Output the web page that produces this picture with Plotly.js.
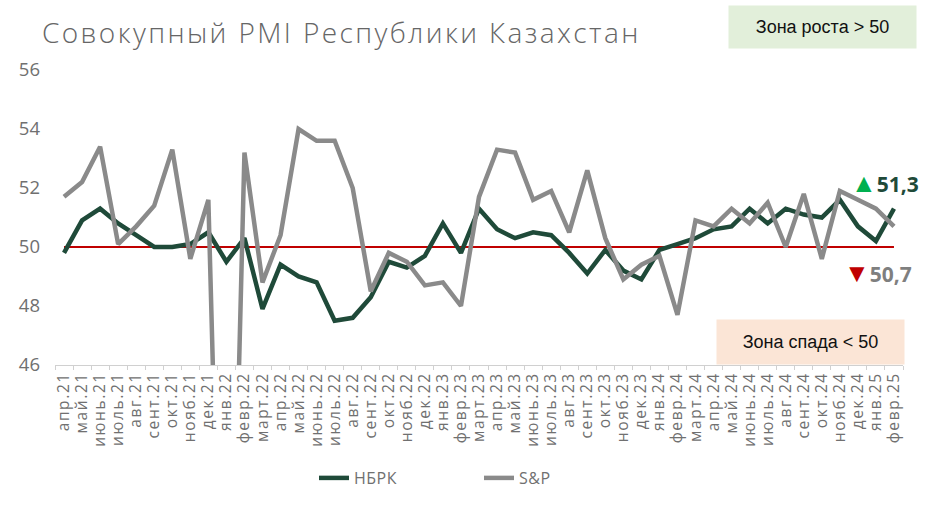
<!DOCTYPE html>
<html>
<head>
<meta charset="utf-8">
<script src="https://cdn.plot.ly/plotly-3.0.1.min.js"></script>
<style>
html,body{margin:0;padding:0;background:#fff;}
#chart{width:927px;height:510px;}
.gtitle{letter-spacing:2.4px;}
.xtick text{letter-spacing:1.6px;}
.legendtext{letter-spacing:0.5px;}
</style>
</head>
<body>
<div id="chart"></div>
<script>
const months = ["апр.21","май.21","июнь.21","июль.21","авг.21","сент.21","окт.21","нояб.21","дек.21",
"янв.22","февр.22","март.22","апр.22","май.22","июнь.22","июль.22","авг.22","сент.22","окт.22","нояб.22","дек.22",
"янв.23","февр.23","март.23","апр.23","май.23","июнь.23","июль.23","авг.23","сент.23","окт.23","нояб.23","дек.23",
"янв.24","февр.24","март.24","апр.24","май.24","июнь.24","июль.24","авг.24","сент.24","окт.24","нояб.24","дек.24",
"янв.25","февр.25"];
const nbrk = [49.8,50.9,51.3,50.8,50.4,50.0,50.0,50.1,50.5,
49.5,50.3,47.9,49.4,49.0,48.8,47.5,47.6,48.3,49.5,49.3,49.7,
50.8,49.8,51.3,50.6,50.3,50.5,50.4,49.8,49.1,49.9,49.2,48.9,
49.9,50.1,50.3,50.6,50.7,51.3,50.8,51.3,51.1,51.0,51.6,50.7,
50.2,51.3];
const sp = [51.7,52.2,53.4,50.1,50.7,51.4,53.3,49.6,51.6,
29.0,53.2,48.8,50.4,54.0,53.6,53.6,52.0,48.5,49.8,49.5,48.7,
48.8,48.0,51.7,53.3,53.2,51.6,51.9,50.5,52.6,50.3,48.9,49.4,
49.7,47.7,50.9,50.7,51.3,50.8,51.5,50.0,51.8,49.6,51.9,51.6,
51.3,50.7];
const threshold = months.map(() => 50);
const yTicks = [46, 48, 50, 52, 54, 56];

const FONT = "Open Sans, Noto Sans, sans-serif";
const NARROW = "Liberation Sans Narrow, Liberation Sans, sans-serif";
const traces = [
  {x: months, y: threshold, type: "scatter", mode: "lines", line: {color: "#c00000", width: 2}, showlegend: false, hoverinfo: "skip"},
  {x: months, y: nbrk, type: "scatter", mode: "lines", name: "НБРК", line: {color: "#1f4a39", width: 4.5}},
  {x: months, y: sp, type: "scatter", mode: "lines", name: "S&P", line: {color: "#8a8a8a", width: 4.5}}
];
const PT = 70, PB = 365, PL = 55, PR = 903;
const px = v => (v - PL) / (PR - PL);
const py = v => (PB - v) / (PB - PT);
const layout = {
  width: 927, height: 510,
  margin: {l: PL, r: 927 - PR, t: PT, b: 510 - PB},
  paper_bgcolor: "#fff", plot_bgcolor: "#fff",
  font: {family: FONT, color: "#707070"},
  title: {text: "Совокупный PMI Республики Казахстан", x: 42 / 927, xanchor: "left", y: 1 - 33 / 510, yanchor: "middle",
          font: {family: FONT, size: 28, color: "#666666", weight: 300}},
  xaxis: {type: "category", range: [-0.5, 46.5], showgrid: false, zeroline: false, automargin: false,
          tickmode: "array", tickvals: months, ticktext: months,
          showline: true, linecolor: "#d0d0d0", linewidth: 1,
          ticks: "outside", tickson: "boundaries", ticklen: 4, tickcolor: "#d0d0d0",
          tickangle: -90, tickfont: {size: 15.5, color: "#707070", family: FONT}},
  yaxis: {range: [46, 56], tickvals: yTicks, showgrid: false, zeroline: false, showline: false, automargin: false,
          ticks: "", ticklabelstandoff: 14, tickfont: {size: 18.5, color: "#707070", family: FONT}},
  legend: {orientation: "h", x: 0.5, xanchor: "center", y: -(478 - PB) / (PB - PT), yanchor: "middle",
           font: {size: 16, color: "#707070", family: FONT}, entrywidth: 120, entrywidthmode: "pixels"},
  annotations: [
    {xref: "paper", yref: "paper", x: px(822), y: py(27), xanchor: "center", yanchor: "middle",
     text: "Зона роста > 50", showarrow: false, bgcolor: "#e2efda", width: 185, height: 40,
     font: {family: NARROW, size: 18, color: "#111"}},
    {xref: "paper", yref: "paper", x: px(810), y: py(342), xanchor: "center", yanchor: "middle",
     text: "Зона спада < 50", showarrow: false, bgcolor: "#fbe5d6", width: 185, height: 42,
     font: {family: NARROW, size: 18, color: "#111"}},
    {xref: "paper", yref: "paper", x: px(849), y: py(182), xanchor: "left", yanchor: "middle",
     text: "<span style='color:#00b050;font-size:26px'>▲</span><b>51,3</b>", showarrow: false,
     font: {family: FONT, size: 21, color: "#1f4a39"}},
    {xref: "paper", yref: "paper", x: px(842), y: py(272), xanchor: "left", yanchor: "middle",
     text: "<span style='color:#c00000;font-size:26px'>▼</span><b>50,7</b>", showarrow: false,
     font: {family: FONT, size: 21, color: "#7f7f7f"}}
  ]
};
Plotly.newPlot("chart", traces, layout, {displayModeBar: false, staticPlot: true});
</script>
</body>
</html>
